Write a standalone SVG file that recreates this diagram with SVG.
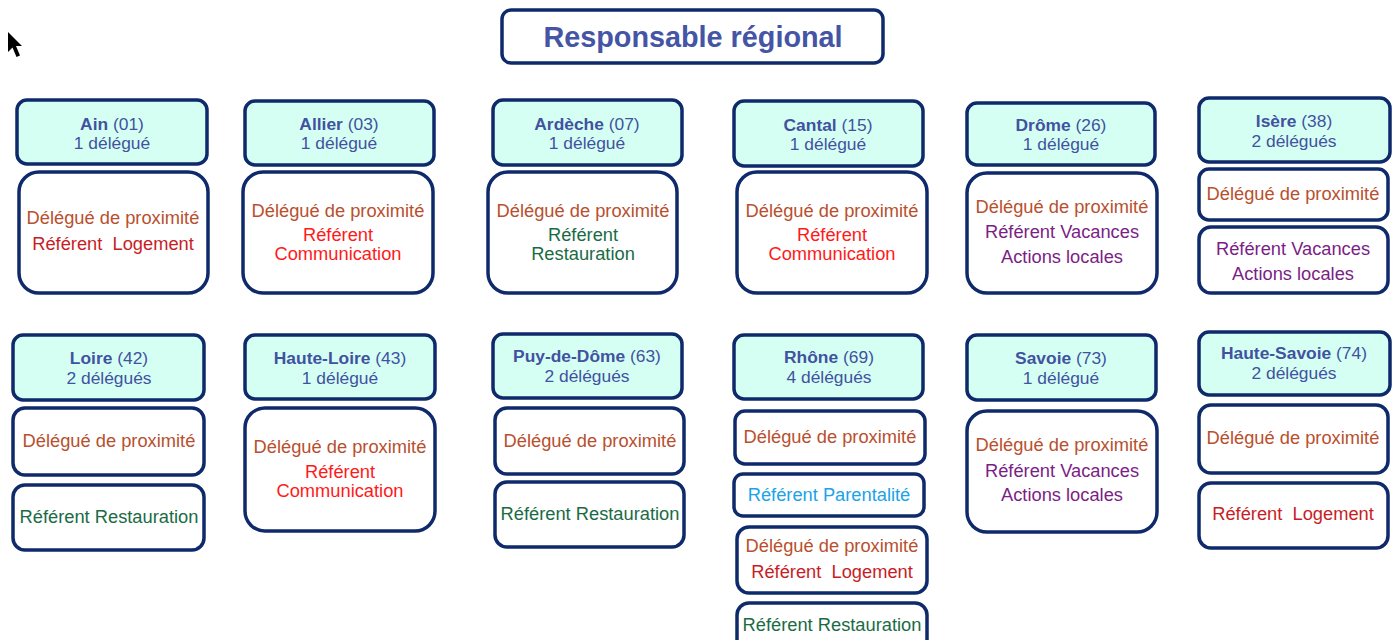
<svg xmlns="http://www.w3.org/2000/svg" width="1395" height="640" viewBox="0 0 1395 640">
<style>
text{font-family:"Liberation Sans",Arial,sans-serif;text-anchor:middle}
.hd{fill:#d6fff4;stroke:#0f2a6b;stroke-width:3.5}
.bd{fill:#ffffff;stroke:#0f2a6b;stroke-width:3.5}
.ht{font-size:17.4px;fill:#4152a0}
.ht tspan.n{font-weight:bold}
.t{font-size:18.3px}
.dp{fill:#b8502e}
.lg{fill:#c81d25}
.cm{fill:#ff1a1a}
.rs{fill:#1a6b45}
.vc{fill:#7b1e86}
.pr{fill:#1aa3e8}
.title{font-size:28.8px;font-weight:bold;fill:#4555a5}
</style>
<rect width="1395" height="640" fill="#ffffff"/>
<path d="M8,32 L8,52 L12.5,47.5 L16.5,57 L20,55.5 L16,46 L22,46 Z" fill="#000000"/>
<g id="connectors"></g>
<g id="responsable">
<rect x="502" y="10" width="381" height="53" rx="9" class="bd"/>
<text x="693" y="47" class="title">Responsable régional</text>
</g>
<g id="ain">
<rect x="17" y="100" width="190" height="64" rx="10" class="hd"/>
<text x="112" y="130" class="ht"><tspan class="n">Ain</tspan> (01)<tspan x="112" dy="19">1 délégué</tspan></text>
<rect x="19" y="172" width="189" height="121" rx="20" class="bd"/>
<text x="113" y="224" class="t dp">Délégué de proximité<tspan x="113" dy="26" class="lg" xml:space="preserve">Référent  Logement</tspan></text>
</g>
<g id="allier">
<rect x="245" y="101" width="189" height="64" rx="10" class="hd"/>
<text x="339" y="130" class="ht"><tspan class="n">Allier</tspan> (03)<tspan x="339" dy="19">1 délégué</tspan></text>
<rect x="243" y="172" width="190" height="121" rx="20" class="bd"/>
<text x="338" y="217" class="t dp">Délégué de proximité<tspan x="338" dy="24" class="cm">Référent</tspan><tspan x="338" dy="19" class="cm">Communication</tspan></text>
</g>
<g id="ardeche">
<rect x="493" y="100" width="189" height="65" rx="10" class="hd"/>
<text x="587" y="130" class="ht"><tspan class="n">Ardèche</tspan> (07)<tspan x="587" dy="19">1 délégué</tspan></text>
<rect x="488" y="172" width="189" height="121" rx="20" class="bd"/>
<text x="583" y="217" class="t dp">Délégué de proximité<tspan x="583" dy="24" class="rs">Référent</tspan><tspan x="583" dy="19" class="rs">Restauration</tspan></text>
</g>
<g id="cantal">
<rect x="734" y="101" width="189" height="65" rx="10" class="hd"/>
<text x="828" y="131" class="ht"><tspan class="n">Cantal</tspan> (15)<tspan x="828" dy="19">1 délégué</tspan></text>
<rect x="737" y="172" width="190" height="121" rx="20" class="bd"/>
<text x="832" y="217" class="t dp">Délégué de proximité<tspan x="832" dy="24" class="cm">Référent</tspan><tspan x="832" dy="19" class="cm">Communication</tspan></text>
</g>
<g id="drome">
<rect x="967" y="103" width="188" height="62" rx="10" class="hd"/>
<text x="1061" y="131" class="ht"><tspan class="n">Drôme</tspan> (26)<tspan x="1061" dy="19">1 délégué</tspan></text>
<rect x="967" y="173" width="190" height="120" rx="20" class="bd"/>
<text x="1062" y="213" class="t dp">Délégué de proximité<tspan x="1062" dy="25" class="vc">Référent Vacances</tspan><tspan x="1062" dy="25" class="vc">Actions locales</tspan></text>
</g>
<g id="isere">
<rect x="1199" y="98" width="191" height="64" rx="10" class="hd"/>
<text x="1294" y="127" class="ht"><tspan class="n">Isère</tspan> (38)<tspan x="1294" dy="20">2 délégués</tspan></text>
<rect x="1199" y="169" width="189" height="51" rx="10" class="bd"/>
<text x="1293" y="200" class="t dp">Délégué de proximité</text>
<rect x="1199" y="227" width="189" height="66" rx="12" class="bd"/>
<text x="1293" y="255" class="t vc">Référent Vacances<tspan x="1293" dy="25">Actions locales</tspan></text>
</g>
<g id="loire">
<rect x="13" y="335" width="191" height="65" rx="10" class="hd"/>
<text x="109" y="364" class="ht"><tspan class="n">Loire</tspan> (42)<tspan x="109" dy="20">2 délégués</tspan></text>
<rect x="13" y="408" width="191" height="67" rx="12" class="bd"/>
<text x="109" y="447" class="t dp">Délégué de proximité</text>
<rect x="13" y="485" width="191" height="65" rx="12" class="bd"/>
<text x="109" y="523" class="t rs">Référent Restauration</text>
</g>
<g id="haute-loire">
<rect x="245" y="335" width="190" height="64" rx="10" class="hd"/>
<text x="340" y="364" class="ht"><tspan class="n">Haute-Loire</tspan> (43)<tspan x="340" dy="20">1 délégué</tspan></text>
<rect x="245" y="408" width="190" height="123" rx="20" class="bd"/>
<text x="340" y="453" class="t dp">Délégué de proximité<tspan x="340" dy="25" class="cm">Référent</tspan><tspan x="340" dy="19" class="cm">Communication</tspan></text>
</g>
<g id="puy-de-dome">
<rect x="493" y="334" width="189" height="64" rx="10" class="hd"/>
<text x="587" y="362" class="ht"><tspan class="n">Puy-de-Dôme</tspan> (63)<tspan x="587" dy="20">2 délégués</tspan></text>
<rect x="495" y="408" width="189" height="66" rx="12" class="bd"/>
<text x="590" y="447" class="t dp">Délégué de proximité</text>
<rect x="495" y="482" width="189" height="65" rx="12" class="bd"/>
<text x="590" y="520" class="t rs">Référent Restauration</text>
</g>
<g id="rhone">
<rect x="734" y="335" width="189" height="64" rx="10" class="hd"/>
<text x="829" y="363" class="ht"><tspan class="n">Rhône</tspan> (69)<tspan x="829" dy="20">4 délégués</tspan></text>
<rect x="735" y="411" width="190" height="53" rx="10" class="bd"/>
<text x="830" y="443" class="t dp">Délégué de proximité</text>
<rect x="734" y="474" width="190" height="42" rx="9" class="bd"/>
<text x="829" y="501" class="t pr">Référent Parentalité</text>
<rect x="737" y="527" width="190" height="66" rx="12" class="bd"/>
<text x="832" y="552" class="t dp">Délégué de proximité<tspan x="832" dy="26" class="lg" xml:space="preserve">Référent  Logement</tspan></text>
<rect x="737" y="603" width="190" height="60" rx="12" class="bd"/>
<text x="832" y="631" class="t rs">Référent Restauration</text>
</g>
<g id="savoie">
<rect x="967" y="335" width="189" height="65" rx="10" class="hd"/>
<text x="1061" y="364" class="ht"><tspan class="n">Savoie</tspan> (73)<tspan x="1061" dy="20">1 délégué</tspan></text>
<rect x="967" y="411" width="190" height="121" rx="20" class="bd"/>
<text x="1062" y="451" class="t dp">Délégué de proximité<tspan x="1062" dy="26" class="vc">Référent Vacances</tspan><tspan x="1062" dy="24" class="vc">Actions locales</tspan></text>
</g>
<g id="haute-savoie">
<rect x="1199" y="332" width="191" height="63" rx="10" class="hd"/>
<text x="1294" y="359" class="ht"><tspan class="n">Haute-Savoie</tspan> (74)<tspan x="1294" dy="20">2 délégués</tspan></text>
<rect x="1199" y="405" width="189" height="68" rx="12" class="bd"/>
<text x="1293" y="444" class="t dp">Délégué de proximité</text>
<rect x="1199" y="483" width="189" height="65" rx="12" class="bd"/>
<text x="1293" y="520" class="t lg" xml:space="preserve">Référent  Logement</text>
</g>
</svg>
